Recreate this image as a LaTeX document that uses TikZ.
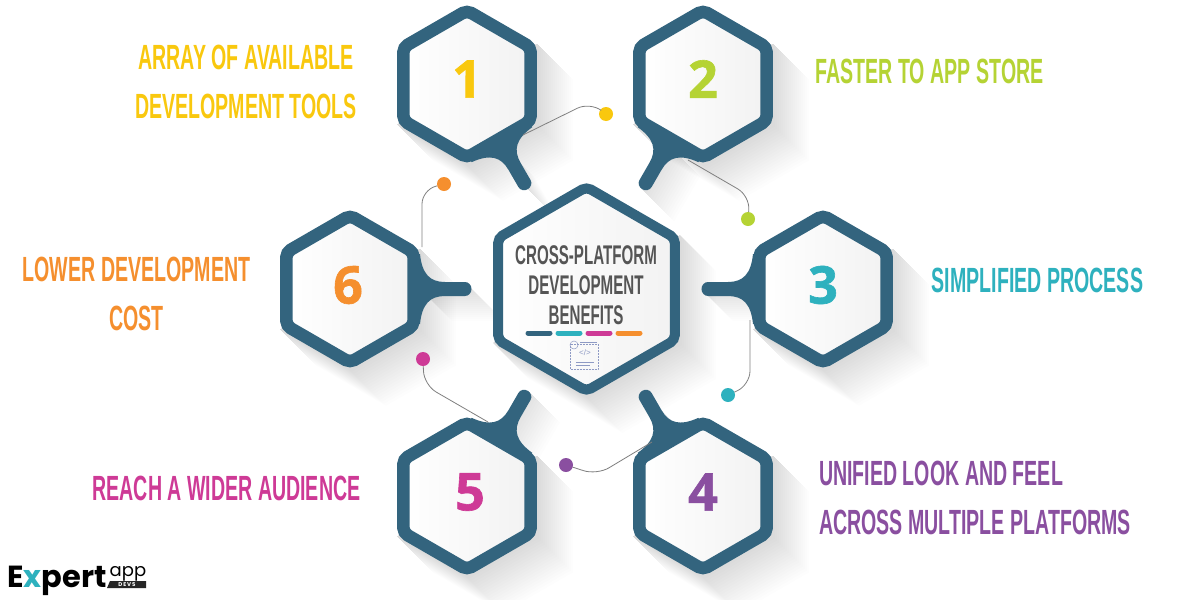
\documentclass[tikz,border=0pt]{standalone}
\usepackage{fontspec}
\setmainfont{Liberation Sans}
\newfontfamily\titlefont[FakeStretch=0.56]{Liberation Sans}
\newfontfamily\hubfont[FakeStretch=0.56]{Liberation Sans}
\newfontfamily\digitfont[FakeBold=1.2]{Open Sans}
\newfontfamily\logofont{Poppins}
\usepackage{tikz}
\usetikzlibrary{shapes.geometric, backgrounds}
\definecolor{hexblue}{HTML}{33647E}
\definecolor{oneyellow}{HTML}{F9C80E}
\definecolor{twogreen}{HTML}{B5D334}
\definecolor{threeteal}{HTML}{2EB1BE}
\definecolor{fourpurple}{HTML}{8A4FA0}
\definecolor{fivepink}{HTML}{CE3A96}
\definecolor{sixorange}{HTML}{F58F2E}
\definecolor{hubgray}{HTML}{555555}
\definecolor{iconblue}{HTML}{8E9AC4}
\tikzstyle{hexcell} = [regular polygon, regular polygon sides=6, shape border rotate=30, minimum size=147pt, inner sep=0pt, outer sep=0pt, draw=hexblue, line width=12.5pt, rounded corners=5pt, left color=white, right color=black!5]
\tikzstyle{hubcell} = [hexcell, minimum size=204pt, line width=10pt]
\tikzstyle{digit} = [font=\digitfont\bfseries\fontsize{52}{52}\selectfont]
\tikzstyle{title} = [font=\titlefont\bfseries\fontsize{35}{49}\selectfont, align=center, inner sep=0pt]
\tikzstyle{hubtitle} = [font=\hubfont\bfseries\fontsize{27}{30}\selectfont, align=center, inner sep=0pt]
\tikzstyle{dot} = [circle, minimum size=14pt, inner sep=0pt, outer sep=0pt]
\tikzstyle{link} = [draw=black!50, line width=0.8pt, rounded corners=14pt]
\tikzstyle{bar} = [line width=5pt, line cap=round]
\tikzstyle{shadowcast} = [black, opacity=0.008]
\newcommand{\hexshadow}[2]{
  \begin{pgfonlayer}{background}
  \foreach \d in {2,4,...,36}
    \fill [shadowcast, shift={(#1.center)}] (#2,{-0.577*#2}) -- ({#2+\d},{-0.577*#2+\d}) -- ({#2+\d},{0.577*#2+\d}) -- (\d,{1.154*#2+\d}) -- ({-#2+\d},{0.577*#2+\d}) -- (-#2,{0.577*#2}) -- cycle;
  \end{pgfonlayer}
}
\newcommand{\hexstem}[2]{
  \begin{pgfonlayer}{background}
  \foreach \d in {2,4,...,32}
    \fill [shadowcast, shift={(#1.center)}] ({70*cos(#2)},{70*sin(#2)}) -- ({122*cos(#2)},{122*sin(#2)}) -- ({122*cos(#2)+\d},{122*sin(#2)+\d}) -- ({70*cos(#2)+\d},{70*sin(#2)+\d}) -- cycle;
  \end{pgfonlayer}
  \fill [hexblue, shift={(#1.center)}, rotate=-#2] (64,-35) -- (70,-35) .. controls (72,-15) and (80,-7) .. (95,-7) -- (115,-7) arc (-90:90:6.5 and 7) -- (95,7) .. controls (80,7) and (72,15) .. (70,35) -- (64,35) -- cycle;
}
\begin{document}
\begin{tikzpicture}[x=1pt, y=-1pt, node distance=205pt]
\useasboundingbox (0,0) rectangle (1200,600);
\begin{pgfonlayer}{background}
\fill [white] (0,0) rectangle (1200,600);
\end{pgfonlayer}
\node (hub) [hubcell] at (586.5,289) {};
\node (hex1) [hexcell, above of=hub, xshift=-119.5pt] {};
\node (hex2) [hexcell, above of=hub, xshift=116.5pt] {};
\node (hex3) [hexcell, right of=hub, xshift=31.5pt] {};
\node (hex4) [hexcell, below of=hub, xshift=116.5pt, yshift=-2pt] {};
\node (hex5) [hexcell, below of=hub, xshift=-119.5pt, yshift=-2pt] {};
\node (hex6) [hexcell, left of=hub, xshift=-31.5pt] {};
\hexshadow{hub}{93.5}
\hexshadow{hex1}{70}
\hexshadow{hex2}{70}
\hexshadow{hex3}{70}
\hexshadow{hex4}{70}
\hexshadow{hex5}{70}
\hexshadow{hex6}{70}
\hexstem{hex1}{60}
\hexstem{hex2}{120}
\hexstem{hex3}{180}
\hexstem{hex4}{-120}
\hexstem{hex5}{-60}
\hexstem{hex6}{0}
\node (num1) [digit, text=oneyellow] at (467,79) {1};
\node (num2) [digit, text=twogreen] at (703,79) {2};
\node (num3) [digit, text=threeteal] at (823,285) {3};
\node (num4) [digit, text=fourpurple] at (703,492) {4};
\node (num5) [digit, text=fivepink] at (470,492) {5};
\node (num6) [digit, text=sixorange] at (348,285) {6};
\node (hubtext) [hubtitle, text=hubgray] at (586,285) {CROSS-PLATFORM\\DEVELOPMENT\\BENEFITS};
\node (txt1) [title, text=oneyellow, left of=hex1, xshift=-16pt, yshift=2pt] {ARRAY OF AVAILABLE\\DEVELOPMENT TOOLS};
\node (txt2) [title, text=twogreen, right of=hex2, xshift=21.5pt, yshift=13pt] {FASTER TO APP STORE};
\node (txt3) [title, text=threeteal, right of=hex3, xshift=9.5pt, yshift=9pt] {SIMPLIFIED PROCESS};
\node (txt4) [title, text=fourpurple, right of=hex4, xshift=67pt, yshift=-2pt, align=left] {UNIFIED LOOK AND FEEL\\ACROSS MULTIPLE PLATFORMS};
\node (txt5) [title, text=fivepink, left of=hex5, xshift=-35.5pt, yshift=8pt] {REACH A WIDER AUDIENCE};
\node (txt6) [title, text=sixorange, left of=hex6, xshift=-8.5pt, yshift=-5pt] {LOWER DEVELOPMENT\\COST};
\node (dot1) [dot, fill=oneyellow] at (606,114) {};
\node (dot2) [dot, fill=twogreen] at (748,219) {};
\node (dot3) [dot, fill=threeteal] at (728,395) {};
\node (dot4) [dot, fill=fourpurple] at (566,465) {};
\node (dot5) [dot, fill=fivepink] at (423,359) {};
\node (dot6) [dot, fill=sixorange] at (444,184) {};
\coordinate (tail1) at (523,135);
\coordinate (bend1) at (590,102);
\coordinate (tail2) at (688,160);
\coordinate (bend2) at (750,196);
\coordinate (tail3) at (750,320);
\coordinate (bend3) at (750,385);
\coordinate (tail4) at (652,442);
\coordinate (bend4) at (597,475);
\coordinate (tail5) at (488,422);
\coordinate (bend5) at (424,385);
\coordinate (tail6) at (422,247);
\coordinate (bend6) at (422,190);
\draw [link] (tail1) -- (bend1) -- (dot1);
\draw [link] (tail2) -- (bend2) -- (dot2);
\draw [link] (tail3) -- (bend3) -- (dot3);
\draw [link] (tail4) -- (bend4) -- (dot4);
\draw [link] (tail5) -- (bend5) -- (dot5);
\draw [link] (tail6) -- (bend6) -- (dot6);
% bars under the title
\draw [bar, hexblue] (528,333) -- (550,333);
\draw [bar, threeteal] (558,333) -- (580,333);
\draw [bar, fivepink] (588,333) -- (610,333);
\draw [bar, sixorange] (618,333) -- (640,333);
% small icon
\draw [iconblue, line width=0.5pt, densely dotted] (570,344) rectangle (598,369);
\draw [iconblue, line width=0.5pt] (574,345) circle (4);
\draw [iconblue, line width=0.5pt] (580,342) -- (597,342);
\node (icontext) [text=iconblue, font=\fontsize{8}{8}\selectfont, inner sep=0pt] at (585,353) {</>};
\draw [iconblue, line width=0.5pt] (576,362) -- (594,362);
\draw [iconblue, line width=0.5pt] (576,365) -- (590,365);
% logo
\node (logo) [font=\logofont\bfseries\fontsize{30.5}{30.5}\selectfont, inner sep=0pt, anchor=base west] at (7,587) {E\textcolor{threeteal}{x}pert};
\node (logoapp) [font=\logofont\fontsize{18}{18}\selectfont, inner sep=0pt, anchor=base] at (128,576) {app};
\fill [black!85] (110,581) -- (146,581) -- (146,588) -- (107,588) -- cycle;
\node (logodevs) [text=white, font=\logofont\bfseries\fontsize{5.5}{5.5}\selectfont, inner sep=0pt] at (127,584.5) {D\,E\,V\,S};
\end{tikzpicture}
\end{document}
